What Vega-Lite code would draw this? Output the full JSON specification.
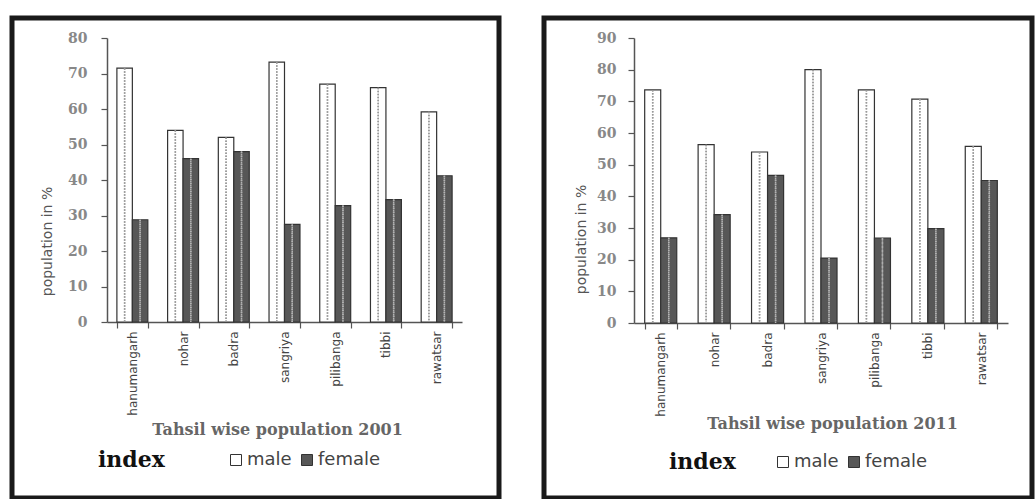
{
  "$schema": "https://vega.github.io/schema/vega-lite/v6.json",
  "padding": {"left": 3, "top": 15, "right": 0, "bottom": 0},
  "background": "white",
  "bounds": "flush",
  "spacing": 45,
  "datasets": {
    "pop": [
      {"year": 2001, "tahsil": "hanumangarh", "sex": "male", "value": 71.5},
      {"year": 2001, "tahsil": "hanumangarh", "sex": "female", "value": 28.8},
      {"year": 2001, "tahsil": "nohar", "sex": "male", "value": 54.0},
      {"year": 2001, "tahsil": "nohar", "sex": "female", "value": 46.0},
      {"year": 2001, "tahsil": "badra", "sex": "male", "value": 52.0},
      {"year": 2001, "tahsil": "badra", "sex": "female", "value": 48.0},
      {"year": 2001, "tahsil": "sangriya", "sex": "male", "value": 73.2},
      {"year": 2001, "tahsil": "sangriya", "sex": "female", "value": 27.5},
      {"year": 2001, "tahsil": "pilibanga", "sex": "male", "value": 67.0},
      {"year": 2001, "tahsil": "pilibanga", "sex": "female", "value": 32.8},
      {"year": 2001, "tahsil": "tibbi", "sex": "male", "value": 66.0},
      {"year": 2001, "tahsil": "tibbi", "sex": "female", "value": 34.5},
      {"year": 2001, "tahsil": "rawatsar", "sex": "male", "value": 59.2},
      {"year": 2001, "tahsil": "rawatsar", "sex": "female", "value": 41.2},
      {"year": 2011, "tahsil": "hanumangarh", "sex": "male", "value": 73.6},
      {"year": 2011, "tahsil": "hanumangarh", "sex": "female", "value": 26.9},
      {"year": 2011, "tahsil": "nohar", "sex": "male", "value": 56.3},
      {"year": 2011, "tahsil": "nohar", "sex": "female", "value": 34.2},
      {"year": 2011, "tahsil": "badra", "sex": "male", "value": 54.0},
      {"year": 2011, "tahsil": "badra", "sex": "female", "value": 46.6},
      {"year": 2011, "tahsil": "sangriya", "sex": "male", "value": 80.0},
      {"year": 2011, "tahsil": "sangriya", "sex": "female", "value": 20.5},
      {"year": 2011, "tahsil": "pilibanga", "sex": "male", "value": 73.6},
      {"year": 2011, "tahsil": "pilibanga", "sex": "female", "value": 26.8},
      {"year": 2011, "tahsil": "tibbi", "sex": "male", "value": 70.7},
      {"year": 2011, "tahsil": "tibbi", "sex": "female", "value": 29.8},
      {"year": 2011, "tahsil": "rawatsar", "sex": "male", "value": 55.8},
      {"year": 2011, "tahsil": "rawatsar", "sex": "female", "value": 45.0}
    ]
  },
  "config": {
    "view": {"stroke": "#1a1a1a", "strokeWidth": 5},
    "axis": {
      "grid": false,
      "domainColor": "#555",
      "domainWidth": 1.5,
      "tickColor": "#555",
      "tickWidth": 1.2,
      "tickSize": 6
    }
  },
  "resolve": {
    "scale": {"x": "independent", "y": "independent", "xOffset": "independent", "fill": "independent"},
    "legend": {"fill": "independent"},
    "axis": {"x": "independent", "y": "independent"}
  },
  "hconcat": [
    {
      "width": 487,
      "height": 480,
      "data": {"name": "pop"},
      "transform": [{"filter": "datum.year == 2001"}],
      "encoding": {
        "x": {
          "field": "tahsil", "type": "nominal", "sort": null,
          "scale": {"range": [95, 450], "paddingInner": 0.39, "paddingOuter": 0.195},
          "axis": {
            "orient": "bottom", "offset": -176, "labelAngle": -90, "tickBand": "extent",
            "labelFont": "DejaVu Sans", "labelFontSize": 12, "labelColor": "#444", "labelPadding": 3,
            "title": "Tahsil wise population 2001",
            "titleFont": "DejaVu Serif", "titleFontSize": 16, "titleFontWeight": "bold", "titleColor": "#666",
            "titleX": 265, "titleY": 107, "titleAlign": "center", "titleBaseline": "middle"
          }
        },
        "xOffset": {"field": "sex", "type": "nominal", "sort": ["male", "female"]},
        "y": {
          "field": "value", "type": "quantitative",
          "scale": {"domain": [0, 80], "range": [304, 20], "nice": false},
          "axis": {
            "offset": -95, "values": [0, 10, 20, 30, 40, 50, 60, 70, 80],
            "labelFont": "DejaVu Serif", "labelFontSize": 14, "labelFontWeight": "bold", "labelColor": "#888", "labelPadding": 14,
            "title": "population in %",
            "titleFont": "DejaVu Sans", "titleFontSize": 14, "titleFontWeight": "normal", "titleColor": "#555",
            "titleX": -60, "titleY": 223, "titleAngle": -90, "titleAlign": "center", "titleBaseline": "middle"
          }
        }
      },
      "layer": [
        {
          "mark": {"type": "bar", "stroke": "#333", "strokeWidth": 1.2},
          "encoding": {
            "fill": {
              "field": "sex", "type": "nominal",
              "scale": {"domain": ["male", "female"], "range": ["#ffffff", "#575757"]},
              "legend": {
                "orient": "none", "legendX": 86, "legendY": 433, "direction": "horizontal",
                "title": "index", "titleOrient": "left", "titleFont": "DejaVu Serif", "titleFontWeight": "bold",
                "titleFontSize": 22, "titleColor": "#111", "titlePadding": 62,
                "symbolType": "square", "symbolSize": 121, "symbolStrokeColor": "#333", "symbolStrokeWidth": 1,
                "labelFont": "DejaVu Sans", "labelFontSize": 18, "labelColor": "#444", "labelOffset": 2, "columnPadding": 6
              }
            }
          }
        },
        {
          "transform": [{"filter": "datum.sex == 'male'"}],
          "mark": {"type": "rule", "xOffset": -3, "stroke": "#9a9a9a", "strokeWidth": 1.5, "strokeDash": [1.5, 1.5]},
          "encoding": {"y2": {"datum": 0}}
        },
        {
          "transform": [{"filter": "datum.sex == 'male'"}],
          "mark": {"type": "rule", "xOffset": 3, "stroke": "#9a9a9a", "strokeWidth": 1.5, "strokeDash": [1.5, 1.5]},
          "encoding": {"y2": {"datum": 0}}
        },
        {
          "transform": [{"filter": "datum.sex == 'female'"}],
          "mark": {"type": "rule", "xOffset": -4, "stroke": "#b4b4b4", "strokeWidth": 1.5, "strokeDash": [1.5, 2.5]},
          "encoding": {"y2": {"datum": 0}}
        },
        {
          "transform": [{"filter": "datum.sex == 'female'"}],
          "mark": {"type": "rule", "xOffset": 0, "stroke": "#b4b4b4", "strokeWidth": 1.5, "strokeDash": [1.5, 2.5], "strokeDashOffset": 2},
          "encoding": {"y2": {"datum": 0}}
        },
        {
          "transform": [{"filter": "datum.sex == 'female'"}],
          "mark": {"type": "rule", "xOffset": 4, "stroke": "#b4b4b4", "strokeWidth": 1.5, "strokeDash": [1.5, 2.5]},
          "encoding": {"y2": {"datum": 0}}
        }
      ]
    },
    {
      "width": 488,
      "height": 480,
      "data": {"name": "pop"},
      "transform": [{"filter": "datum.year == 2011"}],
      "encoding": {
        "x": {
          "field": "tahsil", "type": "nominal", "sort": null,
          "scale": {"range": [90, 464], "paddingInner": 0.4, "paddingOuter": 0.2},
          "axis": {
            "orient": "bottom", "offset": -175, "labelAngle": -90, "tickBand": "extent",
            "labelFont": "DejaVu Sans", "labelFontSize": 12, "labelColor": "#444", "labelPadding": 3,
            "title": "Tahsil wise population 2011",
            "titleFont": "DejaVu Serif", "titleFontSize": 16, "titleFontWeight": "bold", "titleColor": "#666",
            "titleX": 288, "titleY": 100, "titleAlign": "center", "titleBaseline": "middle"
          }
        },
        "xOffset": {"field": "sex", "type": "nominal", "sort": ["male", "female"]},
        "y": {
          "field": "value", "type": "quantitative",
          "scale": {"domain": [0, 90], "range": [305, 20], "nice": false},
          "axis": {
            "offset": -90, "values": [0, 10, 20, 30, 40, 50, 60, 70, 80, 90],
            "labelFont": "DejaVu Serif", "labelFontSize": 14, "labelFontWeight": "bold", "labelColor": "#888", "labelPadding": 12,
            "title": "population in %",
            "titleFont": "DejaVu Sans", "titleFontSize": 14, "titleFontWeight": "normal", "titleColor": "#555",
            "titleX": -53, "titleY": 221, "titleAngle": -90, "titleAlign": "center", "titleBaseline": "middle"
          }
        }
      },
      "layer": [
        {
          "mark": {"type": "bar", "stroke": "#333", "strokeWidth": 1.2},
          "encoding": {
            "fill": {
              "field": "sex", "type": "nominal",
              "scale": {"domain": ["male", "female"], "range": ["#ffffff", "#575757"]},
              "legend": {
                "orient": "none", "legendX": 125, "legendY": 435, "direction": "horizontal",
                "title": "index", "titleOrient": "left", "titleFont": "DejaVu Serif", "titleFontWeight": "bold",
                "titleFontSize": 22, "titleColor": "#111", "titlePadding": 38,
                "symbolType": "square", "symbolSize": 121, "symbolStrokeColor": "#333", "symbolStrokeWidth": 1,
                "labelFont": "DejaVu Sans", "labelFontSize": 18, "labelColor": "#444", "labelOffset": 2, "columnPadding": 6
              }
            }
          }
        },
        {
          "transform": [{"filter": "datum.sex == 'male'"}],
          "mark": {"type": "rule", "xOffset": -3, "stroke": "#9a9a9a", "strokeWidth": 1.5, "strokeDash": [1.5, 1.5]},
          "encoding": {"y2": {"datum": 0}}
        },
        {
          "transform": [{"filter": "datum.sex == 'male'"}],
          "mark": {"type": "rule", "xOffset": 3, "stroke": "#9a9a9a", "strokeWidth": 1.5, "strokeDash": [1.5, 1.5]},
          "encoding": {"y2": {"datum": 0}}
        },
        {
          "transform": [{"filter": "datum.sex == 'female'"}],
          "mark": {"type": "rule", "xOffset": -4, "stroke": "#b4b4b4", "strokeWidth": 1.5, "strokeDash": [1.5, 2.5]},
          "encoding": {"y2": {"datum": 0}}
        },
        {
          "transform": [{"filter": "datum.sex == 'female'"}],
          "mark": {"type": "rule", "xOffset": 0, "stroke": "#b4b4b4", "strokeWidth": 1.5, "strokeDash": [1.5, 2.5], "strokeDashOffset": 2},
          "encoding": {"y2": {"datum": 0}}
        },
        {
          "transform": [{"filter": "datum.sex == 'female'"}],
          "mark": {"type": "rule", "xOffset": 4, "stroke": "#b4b4b4", "strokeWidth": 1.5, "strokeDash": [1.5, 2.5]},
          "encoding": {"y2": {"datum": 0}}
        }
      ]
    }
  ]
}
